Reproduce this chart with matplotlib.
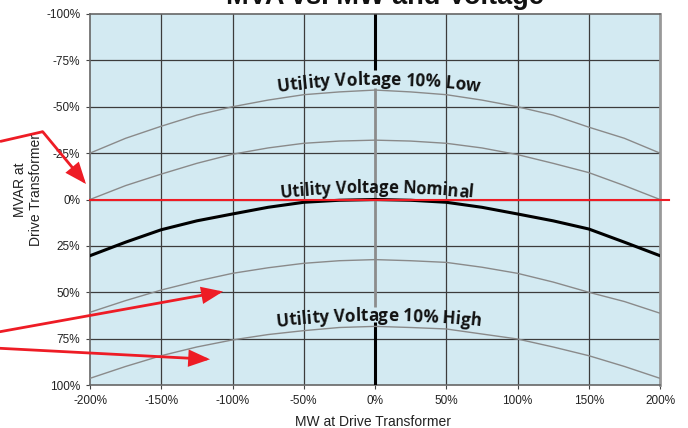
import numpy as np
import matplotlib
matplotlib.use("Agg")
import matplotlib.pyplot as plt
from matplotlib.transforms import IdentityTransform
from matplotlib.patches import FancyArrowPatch
from matplotlib.lines import Line2D
from matplotlib.font_manager import FontProperties, findfont

# ---------------- data ----------------
mw = [-200, -175, -150, -125, -100, -75, -50, -25, 0, 25, 50, 75, 100, 125, 150, 175, 200]
low_outer = [-25, -33, -39.5, -45.5, -50, -53.6, -56.5, -58, -59, -58, -56.5, -53.6, -50, -45.5, -39, -33, -25]
low_inner = [0, -7.5, -13.7, -19.5, -24.4, -27.8, -30.3, -31.5, -32, -31.5, -30.3, -27.8, -24.2, -19.5, -14.5, -7.5, 0]
nominal = [30.3, 23, 16.3, 11.5, 7.8, 4.2, 1.5, 0.4, 0, 0.4, 1.5, 4.2, 7.8, 11.5, 15.9, 23, 30.3]
high_inner = [60.8, 54.5, 48.8, 44, 39.8, 36.8, 34.4, 33, 32.4, 33, 33.9, 36.5, 39.8, 44.5, 50, 55, 61.3]
high_outer = [96.4, 90, 84.2, 79.5, 75.7, 72.8, 70.7, 69, 68.4, 69, 69.8, 72.5, 75.2, 79.5, 84.2, 90, 96.4]

x_ticks = [-200, -150, -100, -50, 0, 50, 100, 150, 200]
y_ticks = [-100, -75, -50, -25, 0, 25, 50, 75, 100]
x_tick_labels = ["-200%", "-150%", "-100%", "-50%", "0%", "50%", "100%", "150%", "200%"]
y_tick_labels = ["-100%", "-75%", "-50%", "-25%", "0%", "25%", "50%", "75%", "100%"]

title = "MVA vs. MW and Voltage"
xlabel = "MW at Drive Transformer"
ylabel = "MVAR at\nDrive Transformer"
curve_labels = ["Utility Voltage 10% Low", "Utility Voltage Nominal", "Utility Voltage 10% High"]

# ---------------- figure ----------------
W, H = 688, 428
fig = plt.figure(figsize=(W / 100, H / 100), dpi=100)
ax = fig.add_axes([90 / W, 1 - 385 / H, 570 / W, 371 / H])
ax.set_facecolor("#d3eaf2")
ax.set_xlim(-200, 200)
ax.set_ylim(100, -100)

# grid (manual, skip centre vertical)
grid_c = "#3c3c3c"
for xv in x_ticks:
    if xv not in (0, -200, 200):
        ax.axvline(xv, color=grid_c, lw=0.9, zorder=1)
for yv in y_ticks:
    if yv not in (-100, 100):
        ax.axhline(yv, color=grid_c, lw=0.9, zorder=1)

# centre vertical line
ax.plot([0, 0], [-100, -70], color="black", lw=2.2, zorder=3, solid_capstyle="butt")
ax.plot([0, 0], [-60, 58], color="#8c8c8c", lw=2.0, zorder=2, solid_capstyle="butt")
ax.plot([0, 0], [66, 100], color="black", lw=2.2, zorder=3, solid_capstyle="butt")

gray = "#8a8a8a"
ax.plot(mw, low_outer, color=gray, lw=1.0, zorder=3)
ax.plot(mw, low_inner, color=gray, lw=1.0, zorder=3)
ax.plot(mw, high_inner, color=gray, lw=1.0, zorder=3)
ax.plot(mw, high_outer, color=gray, lw=1.0, zorder=3)
ax.plot(mw, nominal, color="black", lw=2.2, zorder=4)

# red zero line
ax.plot([-200, 206], [0, 0], color="#ee1c25", lw=1.5, zorder=5, clip_on=False)

ax.set_xticks(x_ticks)
ax.set_xticklabels(x_tick_labels)
ax.set_yticks(y_ticks)
ax.set_yticklabels(y_tick_labels)
for lab in ax.get_xticklabels() + ax.get_yticklabels():
    lab.set_fontfamily("Liberation Sans")
    lab.set_fontsize(8.5)
    lab.set_color("#222222")
ax.tick_params(axis="both", length=3, width=0.8, color="#444444", pad=4)

for side in ["left", "top", "bottom"]:
    ax.spines[side].set_color("#666666")
    ax.spines[side].set_linewidth(1.2)
ax.spines["right"].set_color("#999999")
ax.spines["right"].set_linewidth(2.0)

# titles / labels
fig.text(385 / W, 1 - 4 / H, title, ha="center", va="baseline",
         fontsize=19.5, fontweight="bold", family="Liberation Sans", color="#111111")
fig.text(373 / W, 1 - 426 / H, xlabel, ha="center", va="baseline",
         fontsize=10, family="Liberation Sans", color="#222222")
fig.text(28 / W, 1 - 190 / H, ylabel, ha="center", va="center", rotation=90,
         multialignment="center", fontsize=10, family="Liberation Sans", color="#222222")


# ---------------- curved labels ----------------
def char_advances(s, fp, size):
    try:
        from matplotlib.ft2font import FT2Font
        font = FT2Font(findfont(fp))
        font.set_size(size, 100)
        advs = []
        for ch in s:
            g = font.load_char(ord(ch))
            advs.append(g.linearHoriAdvance / 65536.0)
        return advs
    except Exception:
        return [size * 100 / 72 * 0.6] * len(s)


def curved_text(s, xd, yd, width_px, radius_px, family="Open Sans"):
    fp = FontProperties(family=family, weight="bold")
    base = 10.0
    advs = np.array(char_advances(s, fp, base))
    size = base * width_px / advs.sum()
    advs = advs * width_px / advs.sum()
    px, py = ax.transData.transform((xd, yd))
    cx, cy = px, py - radius_px
    cum = np.concatenate([[0], np.cumsum(advs)])
    centers = (cum[:-1] + cum[1:]) / 2 - width_px / 2
    for ch, sc in zip(s, centers):
        th = sc / radius_px
        x = cx + radius_px * np.sin(th)
        y = cy + radius_px * np.cos(th)
        fig.text(x, y, ch, transform=IdentityTransform(), ha="center", va="baseline",
                 rotation=-np.degrees(th), rotation_mode="anchor",
                 fontproperties=fp, fontsize=size, color="#111111", zorder=6)


curved_text(curve_labels[0], 2.5, -61.7, 203, 730)
curved_text(curve_labels[1], 1.0, -3.5, 193, 940)
curved_text(curve_labels[2], 2.5, 65.5, 205, 930)


# ---------------- red arrows (figure pixel coords) ----------------
def fp_(x, y):
    return (x / W, 1 - y / H)


red = "#ee1c25"
p0, p1, p2 = fp_(0, 141.5), fp_(42.7, 131.7), fp_(86, 184)
fig.add_artist(Line2D([p0[0], p1[0]], [p0[1], p1[1]], transform=fig.transFigure,
                      color=red, lw=2.0, solid_capstyle="butt"))
arrows = [(p1, p2), (fp_(0, 331.7), fp_(223, 291.5)), (fp_(0, 348.3), fp_(210, 359.3))]
for a, b in arrows:
    fig.add_artist(FancyArrowPatch(a, b, transform=fig.transFigure,
                                   arrowstyle="-|>,head_length=12,head_width=4.8",
                                   mutation_scale=1, color=red, lw=2.0,
                                   shrinkA=0, shrinkB=0, joinstyle="miter"))

fig.savefig("out.png", dpi=100)
